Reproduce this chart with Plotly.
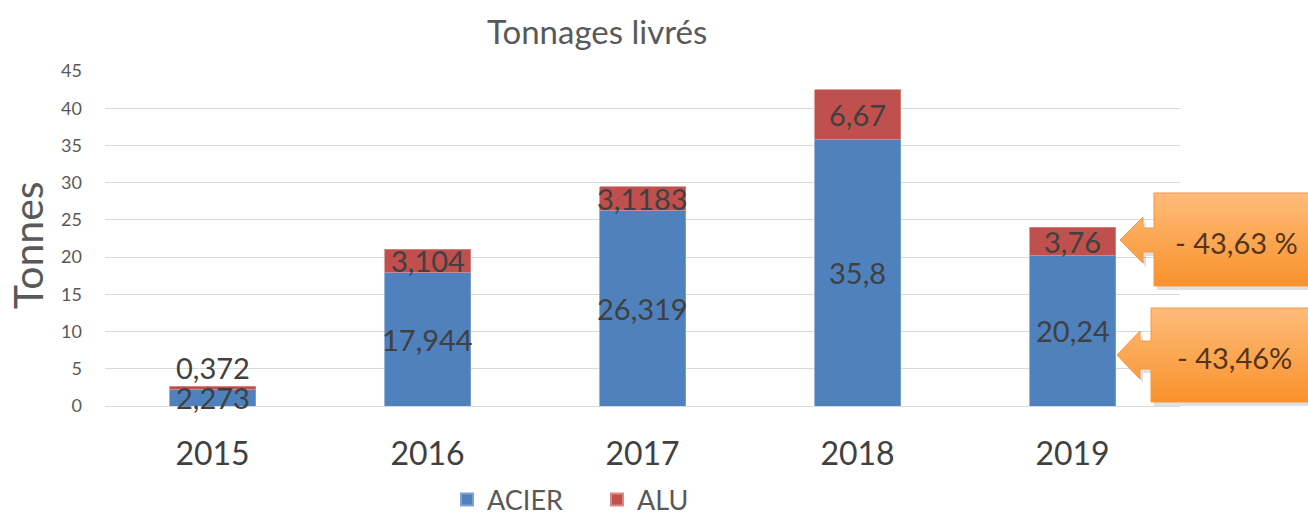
import plotly.graph_objects as go

years = ["2015", "2016", "2017", "2018", "2019"]
acier = [2.273, 17.944, 26.319, 35.8, 20.24]
alu = [0.372, 3.104, 3.1183, 6.67, 3.76]
acier_labels = ["2,273", "17,944", "26,319", "35,8", "20,24"]
alu_labels = ["0,372", "3,104", "3,1183", "6,67", "3,76"]
y_ticks = [0, 5, 10, 15, 20, 25, 30, 35, 40, 45]
callout_texts = ["- 43,63 %", "- 43,46%"]

W, H = 1308, 515
FONT = "Lato"
BLUE = "#4F81BD"
RED = "#C0504D"

fig = go.Figure()
fig.add_trace(go.Bar(x=years, y=acier, name="ACIER", marker=dict(color=BLUE, line=dict(color="#7FA3D0", width=0.8)),
                     width=0.4, hoverinfo="skip"))
fig.add_trace(go.Bar(x=years, y=alu, name="ALU", marker=dict(color=RED, line=dict(color="#D88A88", width=0.8)),
                     width=0.4, hoverinfo="skip"))

annotations = []
for i, yr in enumerate(years):
    y_ac = acier[i] / 2
    y_al = acier[i] + alu[i] / 2
    if alu[i] < 1:
        y_al = acier[i] + alu[i] + 2.5
    annotations.append(dict(x=i, y=y_ac, text=acier_labels[i], showarrow=False,
                            xref="x", yref="y", font=dict(size=29, color="#404040", family=FONT)))
    annotations.append(dict(x=i, y=y_al, text=alu_labels[i], showarrow=False,
                            xref="x", yref="y", font=dict(size=29, color="#404040", family=FONT)))

# callouts (pixel coordinate overlay)
def callout(tip_x, tip_y, head_x, head_half, shaft_half, box_x0, box_y0, box_y1):
    xs = [tip_x, head_x, head_x, box_x0, box_x0, W + 20, W + 20, box_x0, box_x0, head_x, head_x, tip_x]
    ys = [tip_y, tip_y - head_half, tip_y - shaft_half, tip_y - shaft_half, box_y0, box_y0,
          box_y1, box_y1, tip_y + shaft_half, tip_y + shaft_half, tip_y + head_half, tip_y]
    return xs, ys

callouts = [
    dict(tip=(1120, 240), head_x=1143, head_half=23, shaft_half=12, box=(1154, 193, 286)),
    dict(tip=(1117, 355), head_x=1140, head_half=24, shaft_half=14, box=(1151, 308, 402)),
]
for c, txt in zip(callouts, callout_texts):
    xs, ys = callout(c["tip"][0], c["tip"][1], c["head_x"], c["head_half"], c["shaft_half"], *c["box"])
    fig.add_trace(go.Scatter(x=[v + 3 for v in xs], y=[v + 4 for v in ys], xaxis="x2", yaxis="y2",
                             mode="lines", fill="toself", fillcolor="rgba(0,0,0,0.12)",
                             line=dict(width=0), showlegend=False, hoverinfo="skip"))
    fig.add_trace(go.Scatter(x=xs, y=ys, xaxis="x2", yaxis="y2", mode="lines", fill="toself",
                             fillgradient=dict(type="vertical",
                                               colorscale=[[0, "#F8922C"], [1, "#FFBC7A"]]),
                             line=dict(color="#F79646", width=1), showlegend=False, hoverinfo="skip"))
    annotations.append(dict(x=(c["box"][0] + W) / 2 + 5, y=c["tip"][1] + 2, xref="x2", yref="y2",
                            text=txt, showarrow=False,
                            font=dict(size=29, color="#553519", family=FONT)))

annotations.append(dict(x=597 / W, y=1 - 31 / H, xref="paper", yref="paper", text="Tonnages livrés",
                        xanchor="center", yanchor="middle",
                        showarrow=False, font=dict(size=33, color="#595959", family=FONT)))
annotations.append(dict(x=27 / W, y=1 - 245 / H, xref="paper", yref="paper", text="Tonnes",
                        xanchor="center", yanchor="middle",
                        textangle=-90, showarrow=False, font=dict(size=41, color="#595959", family=FONT)))

fig.update_layout(
    width=W, height=H,
    margin=dict(l=0, r=0, t=0, b=0, autoexpand=False),
    barmode="stack",
    plot_bgcolor="rgba(0,0,0,0)", paper_bgcolor="white",
    font=dict(family=FONT, color="#595959"),
    xaxis=dict(type="category", domain=[105 / W, 1180 / W], anchor="y", showgrid=False, showline=False,
               ticks="", automargin=False, range=[-0.5, 4.5],
               tickfont=dict(size=32, color="#404040"), ticklabelstandoff=26, fixedrange=True),
    yaxis=dict(domain=[1 - 406 / H, 1 - 71 / H], anchor="x", range=[0, 45], tickvals=y_ticks,
               automargin=False,
               showgrid=True, gridcolor="#D9D9D9", gridwidth=1.3, zeroline=True, zerolinecolor="#D9D9D9",
               zerolinewidth=1.3, showline=False, ticks="", tickfont=dict(size=18, color="#595959"),
               ticklabelstandoff=22, fixedrange=True),
    xaxis2=dict(domain=[0, 1], range=[0, W], anchor="y2", visible=False, fixedrange=True,
                automargin=False, showgrid=False, zeroline=False),
    yaxis2=dict(domain=[0, 1], range=[H, 0], anchor="x2", visible=False, fixedrange=True,
                automargin=False, showgrid=False, zeroline=False),
    legend=dict(orientation="h", x=447 / W, xanchor="left", y=15 / H, yanchor="middle",
                font=dict(size=27, color="#595959"), traceorder="normal", itemsizing="constant",
                bgcolor="rgba(0,0,0,0)", itemwidth=30, entrywidth=105),
    annotations=annotations,
    showlegend=True,
)

fig.write_html("out.html", config={"displayModeBar": False},
               post_script="document.body.style.margin='0';document.body.style.overflow='hidden';")
